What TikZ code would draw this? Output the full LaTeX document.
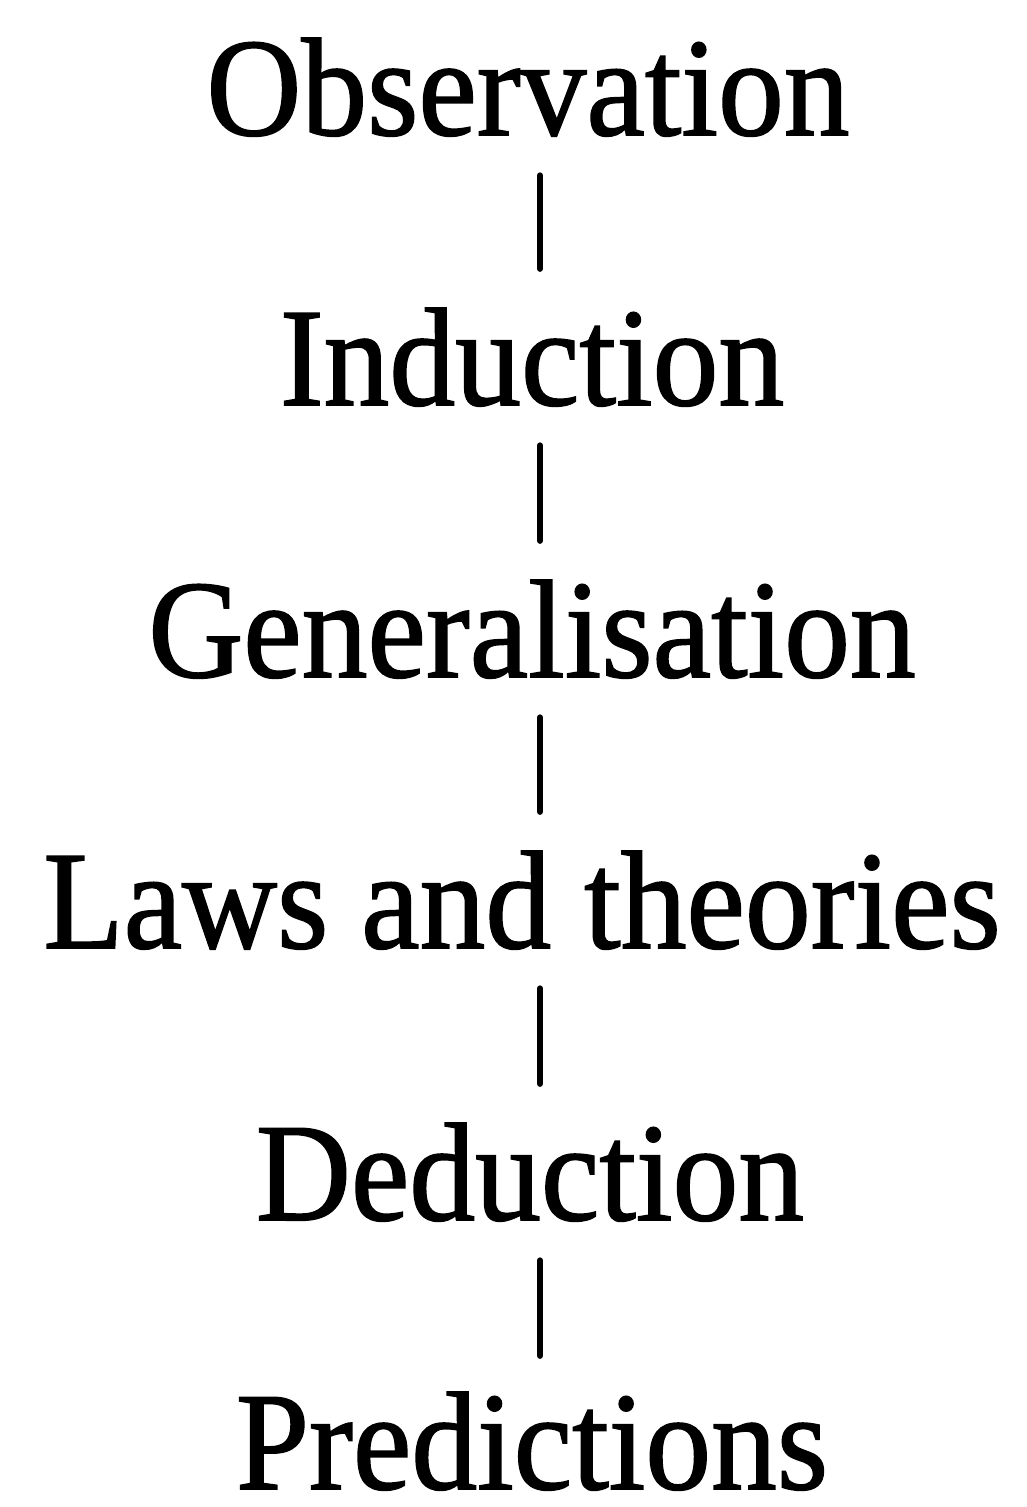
\documentclass[tikz,border=0pt]{standalone}
\usepackage{fontspec}
\setmainfont{Liberation Serif}
\newfontfamily\heavyserif{Liberation Serif}[FakeBold=1.2]
\newcommand\sqz[1]{\scalebox{0.94}[1]{#1}}
\begin{document}
\begin{tikzpicture}[x=1pt,y=-1pt,
  lbl/.style={inner sep=0pt, outer sep=0pt, anchor=base, font=\heavyserif\fontsize{140}{140}\selectfont},
  conn/.style={line width=6pt, line cap=round, shorten <=39pt, shorten >=39pt}]
\useasboundingbox (0,0) rectangle (1027,1507);
\coordinate (axis) at (540,0);
\node[lbl] (obs)  at (528,135)  {\sqz{Observation}};
\node[lbl] (ind)  at (532,405)  {\sqz{Induction}};
\node[lbl] (gen)  at (532,677)  {\sqz{Generalisation}};
\node[lbl] (laws) at (522,948)  {\sqz{Laws and theories}};
\node[lbl] (ded)  at (530,1220) {\sqz{Deduction}};
\node[lbl] (pred) at (532,1489) {\sqz{Predictions}};
\draw[conn] (obs.south -| axis)  -- (ind.north -| axis);
\draw[conn] (ind.south -| axis)  -- (gen.north -| axis);
\draw[conn] (gen.south -| axis)  -- (laws.north -| axis);
\draw[conn] (laws.south -| axis) -- (ded.north -| axis);
\draw[conn, shorten >=36pt] (ded.south -| axis)  -- (pred.north -| axis);
\end{tikzpicture}
\end{document}
